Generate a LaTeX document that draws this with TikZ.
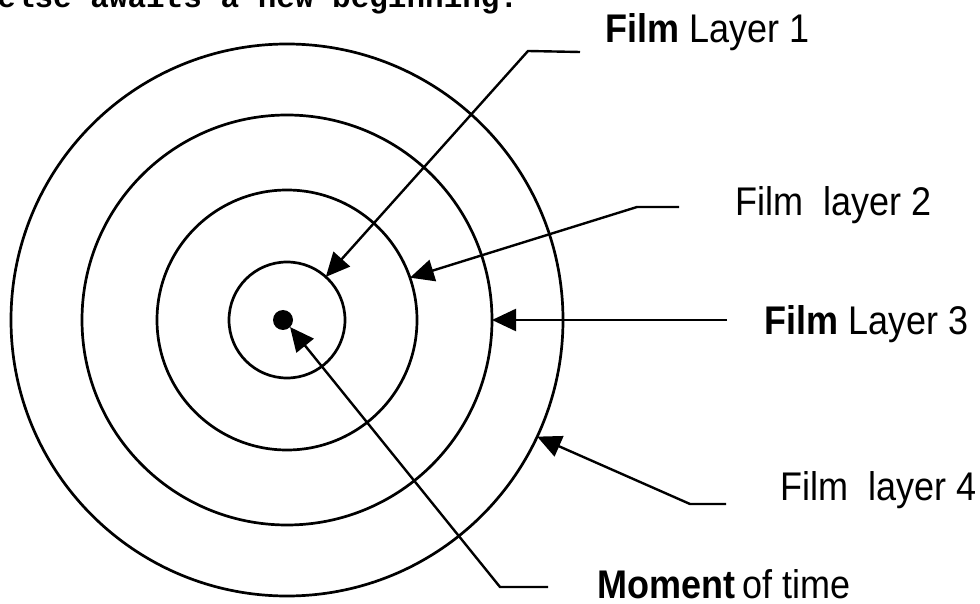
\documentclass[tikz,border=0pt]{standalone}
\usepackage{fontspec}
\setmainfont{Liberation Sans}
\setmonofont{Liberation Mono}
\newfontfamily\labelfont[FakeStretch=0.9]{Liberation Sans}
\usetikzlibrary{arrows.meta}

\begin{document}
\begin{tikzpicture}[
    x=0.5pt, y=-0.5pt,
    ring/.style={draw, circle, inner sep=0pt, outer sep=0pt, line width=1.35pt, minimum size=#1},
    dot/.style={fill, circle, inner sep=0pt, outer sep=0pt, minimum size=10pt},
    lab/.style={anchor=base west, inner sep=0pt, font=\labelfont\fontsize{20}{24}\selectfont},
    leader/.style={line width=1.2pt, -{Triangle[length=12pt, width=11pt]}}
]
    \useasboundingbox (0,0) rectangle (980,604);
    \clip (0,0) rectangle (980,604);

    \node[anchor=base west, inner sep=0pt, font=\ttfamily\bfseries\fontsize{15.5}{18}\selectfont] (topline) at (-3,8) {else awaits a new beginning.};

    \node[ring=58pt] (ring1) at (287,320) {};
    \node[ring=130pt] (ring2) at (287,320) {};
    \node[ring=205pt] (ring3) at (287,320) {};
    \node[ring=276pt] (ring4) at (287,320) {};
    \node[dot] (moment) at (283,320) {};

    \node[lab] (lab1) at (605,43) {\textbf{Film} Layer 1};
    \node[lab] (lab2) at (735,216) {Film\ \ layer 2};
    \node[lab] (lab3) at (764,335) {\textbf{Film} Layer 3};
    \node[lab] (lab4) at (780,500) {Film\ \ layer 4};
    \node[lab] (lab5) at (597,598) {\textbf{Moment}\,of time};

    \coordinate (l1end) at (580,52);
    \coordinate (l1bend) at (528,51);
    \coordinate (l2end) at (679,207);
    \coordinate (l2bend) at (637,207);
    \coordinate (l3end) at (727,320);
    \coordinate (l4end) at (726,504);
    \coordinate (l4bend) at (690,504);
    \coordinate (l5end) at (548,587);
    \coordinate (l5bend) at (500,587);

    \draw[leader] (l1end) -- (l1bend) -- (ring1.48);
    \draw[leader] (l2end) -- (l2bend) -- (ring2.19);
    \draw[leader] (l3end) -- (ring3.east);
    \draw[leader] (l4end) -- (l4bend) -- (ring4.-25);
    \draw[leader] (l5end) -- (l5bend) -- (moment.south east);
\end{tikzpicture}
\end{document}
